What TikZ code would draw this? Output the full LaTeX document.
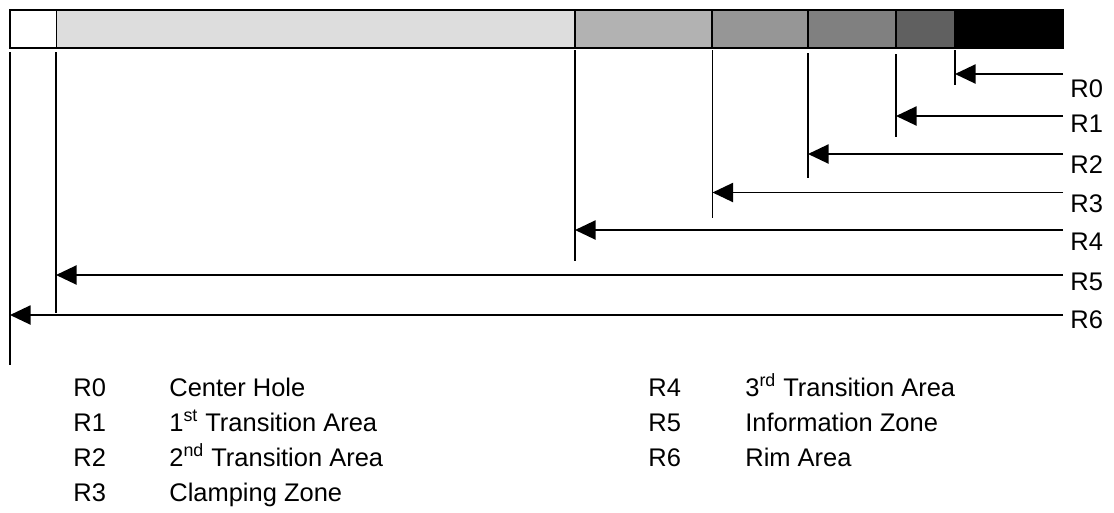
\documentclass[tikz,border=0pt]{standalone}
\usepackage{fontspec}
\setmainfont{Liberation Sans}
\usetikzlibrary{arrows.meta}
\definecolor{zoneA}{HTML}{DDDDDD}
\definecolor{zoneB}{HTML}{B2B2B2}
\definecolor{zoneC}{HTML}{969696}
\definecolor{zoneD}{HTML}{808080}
\definecolor{zoneE}{HTML}{606060}
\tikzset{
  seg/.style={draw=black, line width=1.1pt},
  rline/.style={line width=0.75pt},
  rarrow/.style={->, line width=1.1pt},
  lbl/.style={anchor=base west, inner sep=0pt, font=\fontsize{14.5}{17}\selectfont},
}

\begin{document}
\begin{tikzpicture}[>={Triangle[length=0.41cm, width=0.38cm]}]
	%\draw [thin, help lines] (0,0) grid (22,-10);
	\useasboundingbox (0,0) rectangle (22.28,-10.24);
	\draw[seg, fill=white] (0.2,-0.2) rectangle (1.13,-0.955);
	\draw[seg, fill=zoneA] (1.13,-0.2) rectangle (11.5,-0.955);
	\draw[seg, fill=zoneB] (11.5,-0.2) rectangle (14.24,-0.955);
	\draw[seg, fill=zoneC] (14.24,-0.2) rectangle (16.16,-0.955);
	\draw[seg, fill=zoneD] (16.16,-0.2) rectangle (17.92,-0.955);
	\draw[seg, fill=zoneE] (17.92,-0.2) rectangle (19.1,-0.955);
	\draw[seg, fill=black] (19.1,-0.2) rectangle (21.26,-0.955);
	% radius marks
	\coordinate (t0) at (19.1,-1.0);   \coordinate (b0) at (19.1,-1.7);
	\coordinate (t1) at (17.92,-1.08); \coordinate (b1) at (17.92,-2.74);
	\coordinate (t2) at (16.16,-1.06); \coordinate (b2) at (16.16,-3.56);
	\coordinate (t3) at (14.25,-1.0);  \coordinate (b3) at (14.25,-4.36);
	\coordinate (t4) at (11.5,-1.0);   \coordinate (b4) at (11.5,-5.22);
	\coordinate (t5) at (1.12,-1.04);  \coordinate (b5) at (1.12,-6.26);
	\coordinate (t6) at (0.2,-1.04);   \coordinate (b6) at (0.2,-7.3);
	\draw[rline] (t0) -- (b0);
	\draw[rline] (t1) -- (b1);
	\draw[rline] (t2) -- (b2);
	\draw[rline] (t3) -- (b3);
	\draw[rline] (t4) -- (b4);
	\draw[rline] (t5) -- (b5);
	\draw[rline] (t6) -- (b6);
	% arrows
	\coordinate (e0) at (21.26,-1.48);
	\coordinate (e1) at (21.26,-2.32);
	\coordinate (e2) at (21.26,-3.08);
	\coordinate (e3) at (21.26,-3.85);
	\coordinate (e4) at (21.26,-4.6);
	\coordinate (e5) at (21.26,-5.5);
	\coordinate (e6) at (21.26,-6.3);
	\draw[rarrow] (e0) -- (e0 -| t0);
	\draw[rarrow] (e1) -- (e1 -| t1);
	\draw[rarrow] (e2) -- (e2 -| t2);
	\draw[rarrow] (e3) -- (e3 -| t3);
	\draw[rarrow] (e4) -- (e4 -| t4);
	\draw[rarrow] (e5) -- (e5 -| t5);
	\draw[rarrow] (e6) -- (e6 -| t6);
	\node[lbl] (l0) at (21.4,-1.94) {R0};
	\node[lbl] (l1) at (21.4,-2.64) {R1};
	\node[lbl] (l2) at (21.4,-3.46) {R2};
	\node[lbl] (l3) at (21.4,-4.24) {R3};
	\node[lbl] (l4) at (21.4,-5.0) {R4};
	\node[lbl] (l5) at (21.4,-5.8) {R5};
	\node[lbl] (l6) at (21.4,-6.56) {R6};
	% legend
	\node[lbl] (k0) at (1.46,-7.92) {R0};
	\node[lbl] (d0) at (3.38,-7.92) {Center Hole};
	\node[lbl] (k1) at (1.46,-8.62) {R1};
	\node[lbl] (d1) at (3.38,-8.62) {1\textsuperscript{st} Transition Area};
	\node[lbl] (k2) at (1.46,-9.32) {R2};
	\node[lbl] (d2) at (3.38,-9.32) {2\textsuperscript{nd} Transition Area};
	\node[lbl] (k3) at (1.46,-10.02) {R3};
	\node[lbl] (d3) at (3.38,-10.02) {Clamping Zone};
	\node[lbl] (k4) at (12.96,-7.92) {R4};
	\node[lbl] (d4) at (14.9,-7.92) {3\textsuperscript{rd} Transition Area};
	\node[lbl] (k5) at (12.96,-8.62) {R5};
	\node[lbl] (d5) at (14.9,-8.62) {Information Zone};
	\node[lbl] (k6) at (12.96,-9.32) {R6};
	\node[lbl] (d6) at (14.9,-9.32) {Rim Area};
\end{tikzpicture}
\end{document}
